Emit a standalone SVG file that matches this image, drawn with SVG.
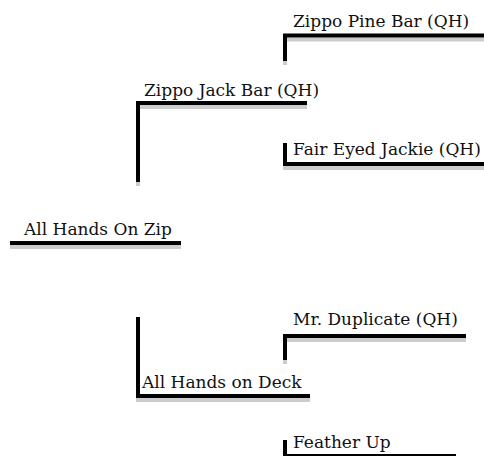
<svg xmlns="http://www.w3.org/2000/svg" width="484" height="456" viewBox="0 0 484 456">
<style>
.ln{fill:none;stroke:#000;stroke-width:4;stroke-linejoin:miter;stroke-linecap:butt}
.sh{fill:none;stroke:#cccccc;stroke-width:4;stroke-linejoin:miter;stroke-linecap:butt}
text{font-family:"DejaVu Serif","Liberation Serif",serif;font-size:17px;fill:#111}
</style>
<rect width="484" height="456" fill="#fff"/>
<g id="connectors">
<g transform="translate(0,4)">
<path class="sh" d="M285,61 V35.5 H490"/>
<path class="sh" d="M138,182 V103 H307"/>
<path class="sh" d="M285,143 V164 H490"/>
<path class="sh" d="M10,243 H181"/>
<path class="sh" d="M138,317 V396 H310"/>
<path class="sh" d="M285,360 V336 H466"/>
<path class="sh" d="M285,440 V456 H456"/>
</g>
<path class="ln" d="M285,61 V35.5 H490"/>
<path class="ln" d="M138,182 V103 H307"/>
<path class="ln" d="M285,143 V164 H490"/>
<path class="ln" d="M10,243 H181"/>
<path class="ln" d="M138,317 V396 H310"/>
<path class="ln" d="M285,360 V336 H466"/>
<path class="ln" d="M285,440 V456 H456"/>
</g>
<g id="n-zippo-pine-bar"><text x="293" y="27">Zippo Pine Bar (QH)</text></g>
<g id="n-zippo-jack-bar"><text x="144" y="96">Zippo Jack Bar (QH)</text></g>
<g id="n-fair-eyed-jackie"><text x="293" y="155">Fair Eyed Jackie (QH)</text></g>
<g id="n-all-hands-on-zip"><text x="24" y="235">All Hands On Zip</text></g>
<g id="n-mr-duplicate"><text x="293" y="325">Mr. Duplicate (QH)</text></g>
<g id="n-all-hands-on-deck"><text x="142" y="388">All Hands on Deck</text></g>
<g id="n-feather-up"><text x="293" y="448">Feather Up</text></g>
</svg>
